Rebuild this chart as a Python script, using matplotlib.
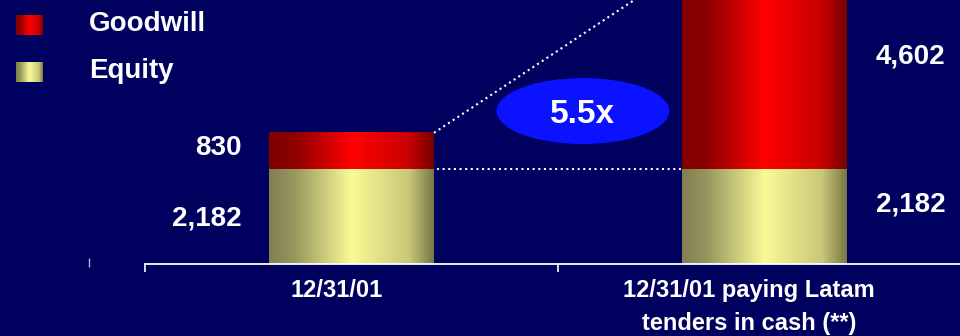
import matplotlib.pyplot as plt
import numpy as np
from matplotlib.patches import Ellipse

# ---------------------------------------------------------------------------
# Data
# ---------------------------------------------------------------------------
categories = ["12/31/01", "12/31/01 paying Latam\ntenders in cash (**)"]
series_names = ["Goodwill", "Equity"]
equity = [2182, 2182]
goodwill = [830, 4602]

# ---------------------------------------------------------------------------
# Style
# ---------------------------------------------------------------------------
BG = "#00005e"
FONT = ["Liberation Sans", "DejaVu Sans"]
plt.rcParams["font.family"] = FONT

# colour stops for the "cylinder" shading (position, rgb 0-255)
GW_STOPS = [(0.0, (128, 0, 0)), (0.15, (140, 0, 0)), (0.5, (255, 0, 0)),
            (0.85, (200, 0, 0)), (1.0, (118, 0, 0))]
EQ_STOPS = [(0.0, (128, 128, 82)), (0.15, (150, 150, 95)), (0.5, (250, 250, 150)),
            (0.85, (200, 200, 120)), (1.0, (120, 120, 72))]
BAR_WIDTH = 0.4


def gradient(stops, n=256):
    """Horizontal 1 x n RGB strip interpolated between colour stops."""
    xs = np.linspace(0, 1, n)
    pos = [s[0] for s in stops]
    cols = np.array([s[1] for s in stops], dtype=float) / 255.0
    img = np.stack([np.interp(xs, pos, cols[:, k]) for k in range(3)], axis=-1)
    return img[np.newaxis, :, :]


fig = plt.figure(figsize=(9.6, 3.36), dpi=100, facecolor=BG)
ax = fig.add_axes([0, 72 / 336, 1, 264 / 336])
ax.set_facecolor(BG)

x = np.arange(len(categories))
totals = [e + g for e, g in zip(equity, goodwill)]

# invisible bars give the geometry, gradients are painted over them
bars_eq = ax.bar(x, equity, width=BAR_WIDTH, color="none", linewidth=0)
bars_gw = ax.bar(x, goodwill, bottom=equity, width=BAR_WIDTH,
                 color="none", linewidth=0)
for bars, stops in ((bars_eq, EQ_STOPS), (bars_gw, GW_STOPS)):
    for patch in bars:
        x0, y0 = patch.get_xy()
        ax.imshow(gradient(stops),
                  extent=[x0, x0 + patch.get_width(), y0, y0 + patch.get_height()],
                  aspect="auto", interpolation="bilinear", zorder=2)

# dotted connectors
left_edge = x + BAR_WIDTH / 2
right_edge = x - BAR_WIDTH / 2
dots = dict(color="white", lw=1.5, linestyle=(0, (1, 1.7)), zorder=3)
ax.plot([left_edge[0] + 0.008, right_edge[1]], [equity[0], equity[1]], **dots)
ax.plot([left_edge[0], right_edge[1]], [totals[0], totals[1]], **dots)

# multiple badge
ratio = goodwill[1] / goodwill[0]
ax.add_patch(Ellipse((0.561, 3514), 0.419, 1516, facecolor="#0a12ff",
                     edgecolor="none", zorder=4))
ax.text(0.561, 3514, f"{ratio:.1f}x", ha="center", va="center_baseline",
        color="white", fontsize=24, fontweight="bold", zorder=5)

# value labels: left bar labelled on its left, right bar on its right
txt = dict(color="white", fontsize=20, fontweight="bold",
           va="center_baseline", textcoords="offset points")
for i, (eq, gw) in enumerate(zip(equity, goodwill)):
    if i == 0:
        xa, dx, ha, dy = i - BAR_WIDTH / 2, -20, "right", (1, 4)
    else:
        xa, dx, ha, dy = i + BAR_WIDTH / 2, 21, "left", (11, 11)
    ax.annotate(f"{eq:,}", xy=(xa, eq / 2), xytext=(dx, dy[0]), ha=ha, **txt)
    ax.annotate(f"{gw:,}", xy=(xa, eq + gw / 2), xytext=(dx, dy[1]), ha=ha, **txt)

# category labels
for xi, label in zip(x, categories):
    ax.annotate(label, xy=(xi, 0), xytext=(-11, -10.5), textcoords="offset points",
                ha="center", va="top", color="white", fontsize=17,
                fontweight="bold", linespacing=1.6, annotation_clip=False)

# axes (ticks first: set_xticks would widen the view otherwise)
for side in ("top", "left", "right"):
    ax.spines[side].set_visible(False)
ax.spines["bottom"].set_color("white")
ax.spines["bottom"].set_linewidth(1.3)
ax.spines["bottom"].set_bounds(-0.5, len(categories) - 0.5)
ax.set_xticks(np.arange(len(categories) + 1) - 0.5)
ax.set_xticklabels([])
ax.set_yticks([])
ax.tick_params(axis="x", colors="white", length=6, width=1.2, direction="out")
ax.set_xlim(-351.5 / 412.5, (960 - 351.5) / 412.5)
ax.set_ylim(0, 264 / 95 * 2182)
ax.vlines(-0.636, -69, 138, color="#b4b4dc", lw=1, clip_on=False)

# legend (manual, gradient swatches)
legend_stops = {"Goodwill": GW_STOPS, "Equity": EQ_STOPS}
for k, name in enumerate(series_names):
    top = 15 + k * 47
    sw = fig.add_axes([16 / 960, 1 - (top + 20) / 336, 27 / 960, 20 / 336])
    sw.imshow(gradient(legend_stops[name]), aspect="auto",
              interpolation="bilinear")
    sw.axis("off")
    fig.text(89 / 960, 1 - (top + 16) / 336, name, ha="left", va="baseline",
             color="white", fontsize=20, fontweight="bold")

fig.savefig("out.png", dpi=100, facecolor=BG)
